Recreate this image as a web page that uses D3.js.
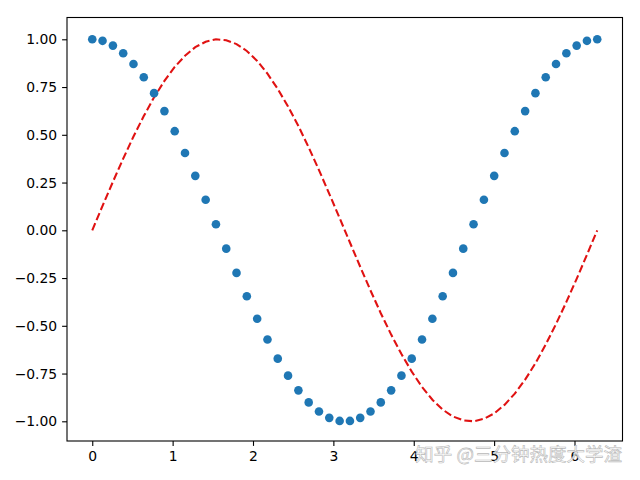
<!DOCTYPE html>
<html>
<head>
<meta charset="utf-8">
<script src="https://cdn.jsdelivr.net/npm/d3@7"></script>
<style>
  body { margin: 0; background: #fff; }
  svg { display: block; }
</style>
</head>
<body>
<svg id="chart"></svg>
<script>
// ----------------------- data -----------------------

// 50 sample positions from 0 to ~6.28
const xs = [0.000, 0.128, 0.257, 0.385, 0.513, 0.641, 0.769, 0.898, 1.026, 1.154,
  1.282, 1.411, 1.539, 1.667, 1.795, 1.923, 2.052, 2.180, 2.308, 2.436,
  2.565, 2.693, 2.821, 2.949, 3.078, 3.206, 3.334, 3.462, 3.590, 3.719,
  3.847, 3.975, 4.103, 4.232, 4.360, 4.488, 4.616, 4.744, 4.873, 5.001,
  5.129, 5.257, 5.386, 5.514, 5.642, 5.770, 5.899, 6.027, 6.155, 6.283];

// blue dots
const dotValues = [1.000, 0.992, 0.967, 0.927, 0.871, 0.801, 0.718, 0.624, 0.519, 0.405,
  0.285, 0.160, 0.032, -0.096, -0.223, -0.345, -0.463, -0.572, -0.672, -0.761,
  -0.838, -0.901, -0.949, -0.982, -0.998, -0.998, -0.982, -0.949, -0.901, -0.838,
  -0.761, -0.672, -0.572, -0.463, -0.345, -0.223, -0.096, 0.032, 0.160, 0.285,
  0.405, 0.519, 0.624, 0.718, 0.801, 0.871, 0.927, 0.967, 0.992, 1.000];

// red dashed line
const lineValues = [0.000, 0.128, 0.254, 0.375, 0.491, 0.598, 0.696, 0.782, 0.855, 0.914,
  0.959, 0.987, 1.000, 0.995, 0.975, 0.939, 0.887, 0.820, 0.740, 0.648,
  0.546, 0.434, 0.315, 0.191, 0.064, -0.064, -0.191, -0.315, -0.434, -0.546,
  -0.648, -0.740, -0.820, -0.887, -0.939, -0.975, -0.995, -1.000, -0.987, -0.959,
  -0.914, -0.855, -0.782, -0.696, -0.598, -0.491, -0.375, -0.254, -0.128, 0.000];

const xTicks = [0, 1, 2, 3, 4, 5, 6];
const yTicks = [-1.00, -0.75, -0.50, -0.25, 0.00, 0.25, 0.50, 0.75, 1.00];
const watermark = "知乎 @三分钟热度大学渣";

// ----------------------- layout -----------------------
const width = 640, height = 480;
const plotLeft = 67, plotRight = 622.5, plotTop = 17.5, plotBottom = 441;

const svg = d3.select("#chart")
  .attr("width", width)
  .attr("height", height)
  .style("font-family", "'DejaVu Sans', sans-serif");

// matplotlib style 5% margins around the data
const xScale = d3.scaleLinear().domain([-0.3142, 6.5973]).range([plotLeft, plotRight]);
const yScale = d3.scaleLinear().domain([-1.1, 1.1]).range([440.4, 20.2]);

const data = xs.map((x, i) => ({ x: x, c: dotValues[i], s: lineValues[i] }));

// dashed line
const line = d3.line()
  .x(d => xScale(d.x))
  .y(d => yScale(d.s));

svg.append("path")
  .datum(data)
  .attr("d", line)
  .attr("fill", "none")
  .attr("stroke", "#e01212")
  .attr("stroke-width", 2.08)
  .attr("stroke-dasharray", "7.7,3.3");

// dots
svg.append("g")
  .selectAll("circle")
  .data(data)
  .join("circle")
  .attr("cx", d => xScale(d.x))
  .attr("cy", d => yScale(d.c))
  .attr("r", 4.3)
  .attr("fill", "#1f77b4");

// frame
svg.append("rect")
  .attr("x", plotLeft)
  .attr("y", plotTop)
  .attr("width", plotRight - plotLeft)
  .attr("height", plotBottom - plotTop)
  .attr("fill", "none")
  .attr("stroke", "#000")
  .attr("stroke-width", 1.1);

// x axis
const xAxis = svg.append("g")
  .attr("transform", "translate(0," + plotBottom + ")")
  .call(d3.axisBottom(xScale).tickValues(xTicks).tickFormat(d3.format("d"))
    .tickSize(4.9).tickPadding(4.9));

// y axis
const yAxis = svg.append("g")
  .attr("transform", "translate(" + plotLeft + ",0)")
  .call(d3.axisLeft(yScale).tickValues(yTicks).tickFormat(d3.format(".2f"))
    .tickSize(4.9).tickPadding(4.9));

[xAxis, yAxis].forEach(ax => {
  ax.select(".domain").remove();
  ax.selectAll(".tick line").attr("stroke", "#000").attr("stroke-width", 1.1);
  ax.selectAll(".tick text")
    .attr("fill", "#000")
    .style("font-size", "13.9px")
    .style("font-family", "'DejaVu Sans', sans-serif");
});
// use a real minus sign like matplotlib
yAxis.selectAll(".tick text").text(d => d3.format(".2f")(d).replace("-", "\u2212"));

// watermark (sits over the bottom tick labels, as in the original)
svg.append("text")
  .attr("x", 622)
  .attr("y", 461)
  .attr("text-anchor", "end")
  .style("font-family", "'Noto Sans CJK SC', sans-serif")
  .style("font-size", "18.5px")
  .attr("fill", "#ffffff")
  .attr("fill-opacity", 0.8)
  .attr("stroke", "#b8b8b8")
  .attr("stroke-width", 0.6)
  .text(watermark);
</script>
</body>
</html>
